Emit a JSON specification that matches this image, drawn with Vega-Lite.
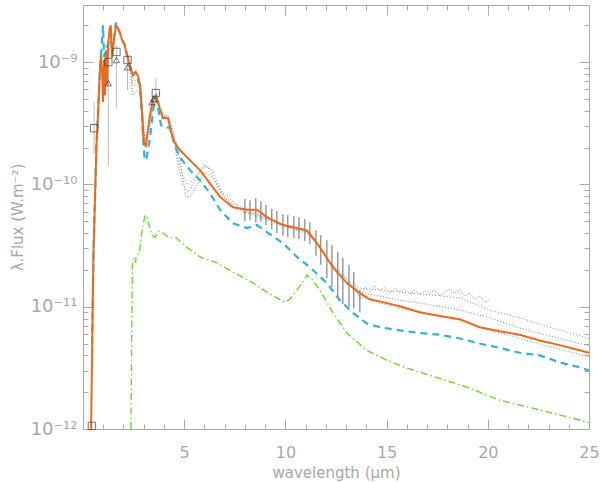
{
  "$schema": "https://vega.github.io/schema/vega-lite/v6.json",
  "width": 506,
  "height": 424,
  "autosize": {"type": "none"},
  "padding": {"left": 83, "top": 5, "right": 11, "bottom": 53},
  "background": "white",
  "config": {
    "view": {"stroke": null},
    "axis": {
      "grid": false,
      "domainColor": "#aaaaaa",
      "tickColor": "#aaaaaa",
      "labelColor": "#a8a8a8",
      "titleColor": "#a8a8a8",
      "labelFont": "DejaVu Sans",
      "titleFont": "DejaVu Sans",
      "titleFontWeight": "normal",
      "domainWidth": 1,
      "tickWidth": 1
    }
  },
  "datasets": {
    "lines": [
      {"s": "D1", "x": 2.32, "y": 8.6e-10}, {"s": "D1", "x": 2.47, "y": 5.37e-10}, {"s": "D1", "x": 2.67, "y": 5.9e-10}, {"s": "D1", "x": 2.86, "y": 5.37e-10}, {"s": "D1", "x": 3.06, "y": 2.3e-10}, {"s": "D1", "x": 3.26, "y": 3.06e-10}, {"s": "D1", "x": 3.46, "y": 5.37e-10}, {"s": "D1", "x": 3.65, "y": 4.9e-10}, {"s": "D1", "x": 3.90, "y": 3.49e-10}, {"s": "D1", "x": 4.20, "y": 3.69e-10}, {"s": "D1", "x": 4.44, "y": 2.53e-10}, {"s": "D1", "x": 4.69, "y": 1.44e-10}, {"s": "D1", "x": 4.94, "y": 9.9e-11}, {"s": "D1", "x": 5.19, "y": 8.6e-11}, {"s": "D1", "x": 5.53, "y": 1.08e-10}, {"s": "D1", "x": 5.88, "y": 1.36e-10}, {"s": "D1", "x": 6.17, "y": 1.385e-10}, {"s": "D1", "x": 6.52, "y": 1.08e-10}, {"s": "D1", "x": 7.01, "y": 7.7e-11}, {"s": "D1", "x": 7.51, "y": 6.8e-11}, {"s": "D1", "x": 8.0, "y": 5.9e-11}, {"s": "D1", "x": 8.49, "y": 5.8e-11}, {"s": "D1", "x": 9.23, "y": 5.1e-11}, {"s": "D1", "x": 10.22, "y": 4.4e-11}, {"s": "D1", "x": 11.21, "y": 4.07e-11}, {"s": "D1", "x": 12.20, "y": 2.32e-11}, {"s": "D1", "x": 13.19, "y": 1.59e-11}, {"s": "D1", "x": 13.68, "y": 1.42e-11}, {"s": "D1", "x": 14.67, "y": 1.37e-11}, {"s": "D1", "x": 15.65, "y": 1.32e-11}, {"s": "D1", "x": 17.14, "y": 1.25e-11}, {"s": "D1", "x": 18.62, "y": 1.18e-11}, {"s": "D1", "x": 20.10, "y": 9.4e-12}, {"s": "D1", "x": 21.58, "y": 8.1e-12}, {"s": "D1", "x": 23.06, "y": 6.8e-12}, {"s": "D1", "x": 25.0, "y": 5.5e-12},
      {"s": "D2", "x": 2.32, "y": 8.9e-10}, {"s": "D2", "x": 2.47, "y": 6.5e-10}, {"s": "D2", "x": 2.67, "y": 6.5e-10}, {"s": "D2", "x": 2.86, "y": 5.9e-10}, {"s": "D2", "x": 3.06, "y": 2.09e-10}, {"s": "D2", "x": 3.26, "y": 2.89e-10}, {"s": "D2", "x": 3.46, "y": 5.27e-10}, {"s": "D2", "x": 3.80, "y": 4.05e-10}, {"s": "D2", "x": 4.20, "y": 3.55e-10}, {"s": "D2", "x": 4.44, "y": 2.68e-10}, {"s": "D2", "x": 4.69, "y": 1.58e-10}, {"s": "D2", "x": 4.94, "y": 1.15e-10}, {"s": "D2", "x": 5.19, "y": 9.9e-11}, {"s": "D2", "x": 5.53, "y": 1.13e-10}, {"s": "D2", "x": 6.02, "y": 1.44e-10}, {"s": "D2", "x": 6.37, "y": 1.31e-10}, {"s": "D2", "x": 6.86, "y": 8.6e-11}, {"s": "D2", "x": 7.51, "y": 7.0e-11}, {"s": "D2", "x": 8.25, "y": 5.9e-11}, {"s": "D2", "x": 9.23, "y": 5.2e-11}, {"s": "D2", "x": 10.22, "y": 4.5e-11}, {"s": "D2", "x": 11.21, "y": 4.07e-11}, {"s": "D2", "x": 12.20, "y": 2.32e-11}, {"s": "D2", "x": 13.19, "y": 1.56e-11}, {"s": "D2", "x": 13.68, "y": 1.32e-11}, {"s": "D2", "x": 14.67, "y": 1.22e-11}, {"s": "D2", "x": 15.65, "y": 1.13e-11}, {"s": "D2", "x": 17.14, "y": 1.04e-11}, {"s": "D2", "x": 18.62, "y": 9.4e-12}, {"s": "D2", "x": 20.10, "y": 8.1e-12}, {"s": "D2", "x": 21.58, "y": 6.7e-12}, {"s": "D2", "x": 23.06, "y": 5.75e-12}, {"s": "D2", "x": 25.0, "y": 4.8e-12},
      {"s": "D3", "x": 2.32, "y": 9.3e-10}, {"s": "D3", "x": 2.47, "y": 7.4e-10}, {"s": "D3", "x": 2.86, "y": 6.5e-10}, {"s": "D3", "x": 3.06, "y": 1.98e-10}, {"s": "D3", "x": 3.31, "y": 3.06e-10}, {"s": "D3", "x": 3.56, "y": 5.17e-10}, {"s": "D3", "x": 3.95, "y": 3.69e-10}, {"s": "D3", "x": 4.30, "y": 3.23e-10}, {"s": "D3", "x": 4.59, "y": 2.3e-10}, {"s": "D3", "x": 4.84, "y": 1.44e-10}, {"s": "D3", "x": 5.09, "y": 7.9e-11}, {"s": "D3", "x": 5.28, "y": 7.9e-11}, {"s": "D3", "x": 5.63, "y": 9.9e-11}, {"s": "D3", "x": 6.02, "y": 1.26e-10}, {"s": "D3", "x": 6.42, "y": 1.13e-10}, {"s": "D3", "x": 6.86, "y": 8.2e-11}, {"s": "D3", "x": 7.51, "y": 6.5e-11}, {"s": "D3", "x": 8.25, "y": 5.7e-11}, {"s": "D3", "x": 9.23, "y": 5.0e-11}, {"s": "D3", "x": 10.22, "y": 4.4e-11}, {"s": "D3", "x": 11.21, "y": 3.9e-11}, {"s": "D3", "x": 12.20, "y": 2.28e-11}, {"s": "D3", "x": 13.19, "y": 1.48e-11}, {"s": "D3", "x": 13.68, "y": 1.22e-11}, {"s": "D3", "x": 14.67, "y": 1.07e-11}, {"s": "D3", "x": 15.65, "y": 9.7e-12}, {"s": "D3", "x": 17.14, "y": 8.7e-12}, {"s": "D3", "x": 18.62, "y": 7.8e-12}, {"s": "D3", "x": 20.10, "y": 6.4e-12}, {"s": "D3", "x": 21.58, "y": 5.5e-12}, {"s": "D3", "x": 23.06, "y": 4.7e-12}, {"s": "D3", "x": 25.0, "y": 3.9e-12},
      {"s": "spec", "x": 13.53, "y": 1.37e-11}, {"s": "spec", "x": 13.68, "y": 1.13e-11}, {"s": "spec", "x": 13.93, "y": 1.45e-11}, {"s": "spec", "x": 14.17, "y": 1.32e-11}, {"s": "spec", "x": 14.42, "y": 1.48e-11}, {"s": "spec", "x": 14.67, "y": 1.35e-11}, {"s": "spec", "x": 14.91, "y": 1.45e-11}, {"s": "spec", "x": 15.16, "y": 1.29e-11}, {"s": "spec", "x": 15.41, "y": 1.42e-11}, {"s": "spec", "x": 15.65, "y": 1.32e-11}, {"s": "spec", "x": 15.90, "y": 1.39e-11}, {"s": "spec", "x": 16.15, "y": 1.27e-11}, {"s": "spec", "x": 16.40, "y": 1.37e-11}, {"s": "spec", "x": 16.64, "y": 1.25e-11}, {"s": "spec", "x": 16.89, "y": 1.35e-11}, {"s": "spec", "x": 17.14, "y": 1.29e-11}, {"s": "spec", "x": 17.38, "y": 1.37e-11}, {"s": "spec", "x": 17.63, "y": 1.22e-11}, {"s": "spec", "x": 17.88, "y": 1.32e-11}, {"s": "spec", "x": 18.12, "y": 1.39e-11}, {"s": "spec", "x": 18.37, "y": 1.29e-11}, {"s": "spec", "x": 18.62, "y": 1.37e-11}, {"s": "spec", "x": 18.86, "y": 1.22e-11}, {"s": "spec", "x": 19.11, "y": 1.29e-11}, {"s": "spec", "x": 19.36, "y": 1.15e-11}, {"s": "spec", "x": 19.60, "y": 1.22e-11}, {"s": "spec", "x": 19.85, "y": 1.09e-11}, {"s": "spec", "x": 20.10, "y": 1.13e-11},
      {"s": "green", "x": 2.37, "y": 1.0e-12}, {"s": "green", "x": 2.40, "y": 4.4e-12}, {"s": "green", "x": 2.44, "y": 2.2e-11}, {"s": "green", "x": 2.52, "y": 2.5e-11}, {"s": "green", "x": 2.59, "y": 2.3e-11}, {"s": "green", "x": 2.64, "y": 2.6e-11}, {"s": "green", "x": 2.78, "y": 2.75e-11}, {"s": "green", "x": 2.90, "y": 4.0e-11}, {"s": "green", "x": 3.06, "y": 5.6e-11}, {"s": "green", "x": 3.14, "y": 5.5e-11}, {"s": "green", "x": 3.22, "y": 4.9e-11}, {"s": "green", "x": 3.41, "y": 3.85e-11}, {"s": "green", "x": 3.56, "y": 3.7e-11}, {"s": "green", "x": 3.75, "y": 4.15e-11}, {"s": "green", "x": 3.90, "y": 4.07e-11}, {"s": "green", "x": 4.20, "y": 3.7e-11}, {"s": "green", "x": 4.63, "y": 3.64e-11}, {"s": "green", "x": 5.12, "y": 3.07e-11}, {"s": "green", "x": 5.78, "y": 2.55e-11}, {"s": "green", "x": 6.62, "y": 2.28e-11}, {"s": "green", "x": 7.41, "y": 1.92e-11}, {"s": "green", "x": 8.25, "y": 1.62e-11}, {"s": "green", "x": 9.07, "y": 1.32e-11}, {"s": "green", "x": 9.58, "y": 1.18e-11}, {"s": "green", "x": 9.98, "y": 1.09e-11}, {"s": "green", "x": 10.22, "y": 1.15e-11}, {"s": "green", "x": 10.72, "y": 1.48e-11}, {"s": "green", "x": 11.06, "y": 1.81e-11}, {"s": "green", "x": 11.31, "y": 1.68e-11}, {"s": "green", "x": 11.70, "y": 1.37e-11}, {"s": "green", "x": 12.35, "y": 8.9e-12}, {"s": "green", "x": 13.04, "y": 6.1e-12}, {"s": "green", "x": 13.33, "y": 5.5e-12}, {"s": "green", "x": 14.02, "y": 4.4e-12}, {"s": "green", "x": 15.01, "y": 3.66e-12}, {"s": "green", "x": 16.0, "y": 3.15e-12}, {"s": "green", "x": 17.28, "y": 2.7e-12}, {"s": "green", "x": 18.96, "y": 2.2e-12}, {"s": "green", "x": 20.59, "y": 1.72e-12}, {"s": "green", "x": 22.22, "y": 1.48e-12}, {"s": "green", "x": 23.90, "y": 1.26e-12}, {"s": "green", "x": 25.0, "y": 1.13e-12},
      {"s": "cyan", "x": 0.45, "y": 5.0e-12}, {"s": "cyan", "x": 0.52, "y": 2.9e-11}, {"s": "cyan", "x": 0.59, "y": 7.4e-11}, {"s": "cyan", "x": 0.66, "y": 1.98e-10}, {"s": "cyan", "x": 0.74, "y": 3.69e-10}, {"s": "cyan", "x": 0.83, "y": 8.28e-10}, {"s": "cyan", "x": 0.90, "y": 1.2e-9}, {"s": "cyan", "x": 0.99, "y": 2.0e-9}, {"s": "cyan", "x": 1.04, "y": 1.1e-9}, {"s": "cyan", "x": 1.14, "y": 1.3e-9}, {"s": "cyan", "x": 1.24, "y": 1.4e-9}, {"s": "cyan", "x": 1.37, "y": 1.95e-9}, {"s": "cyan", "x": 1.43, "y": 1.2e-9}, {"s": "cyan", "x": 1.53, "y": 1.6e-9}, {"s": "cyan", "x": 1.63, "y": 2.1e-9}, {"s": "cyan", "x": 1.70, "y": 1.95e-9}, {"s": "cyan", "x": 1.81, "y": 1.76e-9}, {"s": "cyan", "x": 2.06, "y": 1.38e-9}, {"s": "cyan", "x": 2.31, "y": 9.45e-10}, {"s": "cyan", "x": 2.47, "y": 7.8e-10}, {"s": "cyan", "x": 2.60, "y": 8.28e-10}, {"s": "cyan", "x": 2.81, "y": 6.5e-10}, {"s": "cyan", "x": 2.91, "y": 3.69e-10}, {"s": "cyan", "x": 2.99, "y": 2.09e-10}, {"s": "cyan", "x": 3.05, "y": 1.58e-10}, {"s": "cyan", "x": 3.14, "y": 1.64e-10}, {"s": "cyan", "x": 3.31, "y": 2.4e-10}, {"s": "cyan", "x": 3.54, "y": 5.08e-10}, {"s": "cyan", "x": 3.65, "y": 4.9e-10}, {"s": "cyan", "x": 3.85, "y": 3.06e-10}, {"s": "cyan", "x": 4.05, "y": 2.89e-10}, {"s": "cyan", "x": 4.28, "y": 2.94e-10}, {"s": "cyan", "x": 4.53, "y": 2.09e-10}, {"s": "cyan", "x": 4.79, "y": 1.67e-10}, {"s": "cyan", "x": 5.28, "y": 1.31e-10}, {"s": "cyan", "x": 5.78, "y": 1.08e-10}, {"s": "cyan", "x": 6.27, "y": 8.5e-11}, {"s": "cyan", "x": 6.77, "y": 6.2e-11}, {"s": "cyan", "x": 7.41, "y": 4.8e-11}, {"s": "cyan", "x": 8.10, "y": 4.4e-11}, {"s": "cyan", "x": 8.59, "y": 4.65e-11}, {"s": "cyan", "x": 9.09, "y": 4.07e-11}, {"s": "cyan", "x": 9.88, "y": 3.31e-11}, {"s": "cyan", "x": 10.57, "y": 2.55e-11}, {"s": "cyan", "x": 11.21, "y": 2.1e-11}, {"s": "cyan", "x": 12.05, "y": 1.56e-11}, {"s": "cyan", "x": 12.69, "y": 1.13e-11}, {"s": "cyan", "x": 13.33, "y": 8.9e-12}, {"s": "cyan", "x": 14.02, "y": 7.3e-12}, {"s": "cyan", "x": 14.67, "y": 6.8e-12}, {"s": "cyan", "x": 15.65, "y": 6.4e-12}, {"s": "cyan", "x": 16.64, "y": 6.1e-12}, {"s": "cyan", "x": 17.63, "y": 5.9e-12}, {"s": "cyan", "x": 18.62, "y": 5.5e-12}, {"s": "cyan", "x": 19.60, "y": 5.0e-12}, {"s": "cyan", "x": 20.59, "y": 4.6e-12}, {"s": "cyan", "x": 21.58, "y": 4.2e-12}, {"s": "cyan", "x": 22.57, "y": 4.0e-12}, {"s": "cyan", "x": 23.56, "y": 3.5e-12}, {"s": "cyan", "x": 24.54, "y": 3.2e-12}, {"s": "cyan", "x": 25.0, "y": 3.0e-12},
      {"s": "orange", "x": 0.40, "y": 1.0e-12}, {"s": "orange", "x": 0.47, "y": 7.8e-12}, {"s": "orange", "x": 0.52, "y": 2.9e-11}, {"s": "orange", "x": 0.59, "y": 7.4e-11}, {"s": "orange", "x": 0.66, "y": 1.98e-10}, {"s": "orange", "x": 0.74, "y": 3.69e-10}, {"s": "orange", "x": 0.83, "y": 8.28e-10}, {"s": "orange", "x": 0.89, "y": 1.14e-9}, {"s": "orange", "x": 0.94, "y": 8.6e-10}, {"s": "orange", "x": 0.99, "y": 4.71e-10}, {"s": "orange", "x": 1.04, "y": 1.04e-9}, {"s": "orange", "x": 1.09, "y": 5.37e-10}, {"s": "orange", "x": 1.14, "y": 1.25e-9}, {"s": "orange", "x": 1.19, "y": 6.5e-10}, {"s": "orange", "x": 1.24, "y": 1.38e-9}, {"s": "orange", "x": 1.32, "y": 1.9e-9}, {"s": "orange", "x": 1.37, "y": 2.0e-9}, {"s": "orange", "x": 1.43, "y": 1.08e-9}, {"s": "orange", "x": 1.53, "y": 1.51e-9}, {"s": "orange", "x": 1.63, "y": 2.0e-9}, {"s": "orange", "x": 1.70, "y": 1.93e-9}, {"s": "orange", "x": 1.81, "y": 1.76e-9}, {"s": "orange", "x": 1.93, "y": 1.51e-9}, {"s": "orange", "x": 2.06, "y": 1.38e-9}, {"s": "orange", "x": 2.17, "y": 1.14e-9}, {"s": "orange", "x": 2.31, "y": 9.45e-10}, {"s": "orange", "x": 2.47, "y": 7.8e-10}, {"s": "orange", "x": 2.60, "y": 8.28e-10}, {"s": "orange", "x": 2.72, "y": 7.7e-10}, {"s": "orange", "x": 2.81, "y": 6.5e-10}, {"s": "orange", "x": 2.91, "y": 4.05e-10}, {"s": "orange", "x": 2.96, "y": 2.78e-10}, {"s": "orange", "x": 3.01, "y": 2.18e-10}, {"s": "orange", "x": 3.11, "y": 2.09e-10}, {"s": "orange", "x": 3.21, "y": 2.78e-10}, {"s": "orange", "x": 3.29, "y": 3.49e-10}, {"s": "orange", "x": 3.46, "y": 5.08e-10}, {"s": "orange", "x": 3.62, "y": 5.37e-10}, {"s": "orange", "x": 3.79, "y": 4.21e-10}, {"s": "orange", "x": 3.95, "y": 3.49e-10}, {"s": "orange", "x": 4.20, "y": 3.49e-10}, {"s": "orange", "x": 4.35, "y": 2.68e-10}, {"s": "orange", "x": 4.54, "y": 2.18e-10}, {"s": "orange", "x": 4.79, "y": 1.91e-10}, {"s": "orange", "x": 5.28, "y": 1.58e-10}, {"s": "orange", "x": 5.78, "y": 1.31e-10}, {"s": "orange", "x": 6.27, "y": 1.02e-10}, {"s": "orange", "x": 6.77, "y": 7.9e-11}, {"s": "orange", "x": 7.41, "y": 6.5e-11}, {"s": "orange", "x": 8.10, "y": 6.2e-11}, {"s": "orange", "x": 8.59, "y": 6.2e-11}, {"s": "orange", "x": 9.09, "y": 5.4e-11}, {"s": "orange", "x": 9.88, "y": 4.65e-11}, {"s": "orange", "x": 10.57, "y": 4.4e-11}, {"s": "orange", "x": 11.06, "y": 4.2e-11}, {"s": "orange", "x": 11.70, "y": 3.07e-11}, {"s": "orange", "x": 12.35, "y": 2.1e-11}, {"s": "orange", "x": 13.04, "y": 1.56e-11}, {"s": "orange", "x": 13.68, "y": 1.29e-11}, {"s": "orange", "x": 14.17, "y": 1.15e-11}, {"s": "orange", "x": 14.81, "y": 1.09e-11}, {"s": "orange", "x": 15.65, "y": 1.01e-11}, {"s": "orange", "x": 16.64, "y": 9.0e-12}, {"s": "orange", "x": 17.63, "y": 8.4e-12}, {"s": "orange", "x": 18.62, "y": 7.9e-12}, {"s": "orange", "x": 19.60, "y": 6.8e-12}, {"s": "orange", "x": 20.59, "y": 6.3e-12}, {"s": "orange", "x": 21.58, "y": 5.9e-12}, {"s": "orange", "x": 22.57, "y": 5.3e-12}, {"s": "orange", "x": 23.56, "y": 4.85e-12}, {"s": "orange", "x": 24.54, "y": 4.4e-12}, {"s": "orange", "x": 25.0, "y": 4.2e-12}
    ],
    "bars": [
      {"k": "phot", "x": 0.55, "lo": 1.77e-10, "hi": 4.71e-10},
      {"k": "phot", "x": 1.25, "lo": 1.41e-10, "hi": 1.14e-9},
      {"k": "phot", "x": 1.65, "lo": 4.21e-10, "hi": 1.38e-9},
      {"k": "phot", "x": 2.2, "lo": 5.9e-10, "hi": 1.08e-9},
      {"k": "phot", "x": 3.6, "lo": 4.37e-10, "hi": 7.4e-10},
      {"k": "irs", "x": 8.00, "lo": 5.0e-11, "hi": 7.6e-11},
      {"k": "irs", "x": 8.25, "lo": 5.1e-11, "hi": 7.4e-11},
      {"k": "irs", "x": 8.54, "lo": 4.9e-11, "hi": 7.7e-11},
      {"k": "irs", "x": 8.79, "lo": 5.0e-11, "hi": 7.3e-11},
      {"k": "irs", "x": 9.04, "lo": 4.65e-11, "hi": 6.8e-11},
      {"k": "irs", "x": 9.33, "lo": 4.3e-11, "hi": 6.3e-11},
      {"k": "irs", "x": 9.58, "lo": 4.0e-11, "hi": 6.05e-11},
      {"k": "irs", "x": 9.88, "lo": 3.8e-11, "hi": 5.7e-11},
      {"k": "irs", "x": 10.12, "lo": 3.7e-11, "hi": 5.6e-11},
      {"k": "irs", "x": 10.42, "lo": 3.64e-11, "hi": 5.5e-11},
      {"k": "irs", "x": 10.67, "lo": 3.57e-11, "hi": 5.4e-11},
      {"k": "irs", "x": 10.96, "lo": 3.44e-11, "hi": 5.2e-11},
      {"k": "irs", "x": 11.21, "lo": 3.25e-11, "hi": 4.9e-11},
      {"k": "irs", "x": 11.51, "lo": 2.6e-11, "hi": 4.2e-11},
      {"k": "irs", "x": 11.75, "lo": 2.2e-11, "hi": 3.85e-11},
      {"k": "irs", "x": 12.05, "lo": 1.71e-11, "hi": 3.5e-11},
      {"k": "irs", "x": 12.30, "lo": 1.45e-11, "hi": 3.2e-11},
      {"k": "irs", "x": 12.59, "lo": 1.18e-11, "hi": 2.8e-11},
      {"k": "irs", "x": 12.84, "lo": 1.05e-11, "hi": 2.5e-11},
      {"k": "irs", "x": 13.14, "lo": 9.9e-12, "hi": 2.2e-11},
      {"k": "irs", "x": 13.38, "lo": 9.7e-12, "hi": 1.92e-11},
      {"k": "irs", "x": 13.68, "lo": 9.0e-12, "hi": 1.37e-11}
    ],
    "phot": [
      {"k": "sq", "x": 0.44, "y": 1.06e-12},
      {"k": "sq", "x": 0.55, "y": 2.88e-10},
      {"k": "sq", "x": 1.25, "y": 1.0e-9},
      {"k": "sq", "x": 1.65, "y": 1.21e-9},
      {"k": "sq", "x": 2.2, "y": 1.04e-9},
      {"k": "sq", "x": 3.6, "y": 5.58e-10},
      {"k": "tri", "x": 1.25, "y": 6.73e-10},
      {"k": "tri", "x": 1.65, "y": 1.04e-9},
      {"k": "tri", "x": 2.2, "y": 9.1e-10},
      {"k": "tri", "x": 3.4, "y": 4.71e-10},
      {"k": "tri", "x": 3.5, "y": 5.0e-10}
    ]
  },
  "resolve": {"scale": {"x": "shared", "y": "shared"}, "axis": {"x": "independent", "y": "independent"}},
  "layer": [
    {
      "data": {"name": "lines"},
      "transform": [{"filter": "datum.s == 'D1' || datum.s == 'D2' || datum.s == 'D3'"}],
      "mark": {"type": "line", "stroke": "#8c8c8c", "strokeWidth": 1, "strokeDash": [1, 2], "clip": true},
      "encoding": {
        "x": {"field": "x", "type": "quantitative", "scale": {"domain": [0, 25], "nice": false, "zero": false},
          "axis": {"orient": "bottom", "values": [5, 10, 15, 20, 25], "tickSize": -10, "labelPadding": 25, "labelFontSize": 16, "labelFlush": false, "title": "wavelength (μm)", "titleFontSize": 15, "titlePadding": 5}},
        "y": {"field": "y", "type": "quantitative", "scale": {"type": "log", "domain": [1e-12, 2.93e-9], "nice": false},
          "axis": {"orient": "left", "values": [1e-12, 1e-11, 1e-10, 1e-9], "tickSize": -10, "labelPadding": 16, "labelFontSize": 18, "labelFlush": false,
            "labelExpr": "datum.value < 5e-12 ? '10⁻¹²' : datum.value < 5e-11 ? '10⁻¹¹' : datum.value < 5e-10 ? '10⁻¹⁰' : '10⁻⁹'",
            "title": "λ.Flux (W.m⁻²)", "titleFontSize": 15, "titlePadding": 5}},
        "detail": {"field": "s"}
      }
    },
    {
      "data": {"name": "lines"},
      "transform": [{"filter": "datum.s == 'spec'"}],
      "mark": {"type": "line", "stroke": "#999999", "strokeWidth": 1, "strokeDash": [1, 1.5], "clip": true},
      "encoding": {
        "x": {"field": "x", "type": "quantitative", "scale": {"domain": [0, 25], "nice": false, "zero": false},
          "axis": {"orient": "bottom", "values": [1, 2, 3, 4, 6, 7, 8, 9, 11, 12, 13, 14, 16, 17, 18, 19, 21, 22, 23, 24], "tickSize": -5, "labels": false, "domain": false, "title": null}},
        "y": {"field": "y", "type": "quantitative", "scale": {"type": "log", "domain": [1e-12, 2.93e-9], "nice": false},
          "axis": {"orient": "left", "values": [2e-12, 3e-12, 4e-12, 5e-12, 6e-12, 7e-12, 8e-12, 9e-12, 2e-11, 3e-11, 4e-11, 5e-11, 6e-11, 7e-11, 8e-11, 9e-11, 2e-10, 3e-10, 4e-10, 5e-10, 6e-10, 7e-10, 8e-10, 9e-10, 2e-9], "tickSize": -5, "labels": false, "domain": false, "title": null}}
      }
    },
    {
      "data": {"name": "bars"},
      "mark": {"type": "rule", "strokeWidth": 1, "clip": true},
      "encoding": {
        "x": {"field": "x", "type": "quantitative", "scale": {"domain": [0, 25], "nice": false, "zero": false},
          "axis": {"orient": "top", "values": [5, 10, 15, 20], "tickSize": -10, "labels": false, "title": null}},
        "y": {"field": "lo", "type": "quantitative", "scale": {"type": "log", "domain": [1e-12, 2.93e-9], "nice": false},
          "axis": {"orient": "right", "values": [1e-12, 1e-11, 1e-10, 1e-9], "tickSize": -10, "labels": false, "title": null}},
        "y2": {"field": "hi"},
        "color": {"field": "k", "type": "nominal", "scale": {"domain": ["irs", "phot"], "range": ["#6a6a6a", "#bdbdbd"]}, "legend": null}
      }
    },
    {
      "data": {"name": "lines"},
      "transform": [{"filter": "datum.s == 'green'"}],
      "mark": {"type": "line", "stroke": "#66dd22", "strokeWidth": 1.4, "strokeDash": [7, 3, 1.5, 3], "clip": true},
      "encoding": {
        "x": {"field": "x", "type": "quantitative", "scale": {"domain": [0, 25], "nice": false, "zero": false},
          "axis": {"orient": "top", "values": [1, 2, 3, 4, 6, 7, 8, 9, 11, 12, 13, 14, 16, 17, 18, 19, 21, 22, 23, 24], "tickSize": -5, "labels": false, "domain": false, "title": null}},
        "y": {"field": "y", "type": "quantitative", "scale": {"type": "log", "domain": [1e-12, 2.93e-9], "nice": false},
          "axis": {"orient": "right", "values": [2e-12, 3e-12, 4e-12, 5e-12, 6e-12, 7e-12, 8e-12, 9e-12, 2e-11, 3e-11, 4e-11, 5e-11, 6e-11, 7e-11, 8e-11, 9e-11, 2e-10, 3e-10, 4e-10, 5e-10, 6e-10, 7e-10, 8e-10, 9e-10, 2e-9], "tickSize": -5, "labels": false, "domain": false, "title": null}}
      }
    },
    {
      "data": {"name": "lines"},
      "transform": [{"filter": "datum.s == 'cyan'"}],
      "mark": {"type": "line", "stroke": "#2db4d8", "strokeWidth": 2.2, "strokeDash": [7, 5], "clip": true},
      "encoding": {
        "x": {"field": "x", "type": "quantitative", "scale": {"domain": [0, 25], "nice": false, "zero": false}, "axis": null},
        "y": {"field": "y", "type": "quantitative", "scale": {"type": "log", "domain": [1e-12, 2.93e-9], "nice": false}, "axis": null}
      }
    },
    {
      "data": {"name": "lines"},
      "transform": [{"filter": "datum.s == 'orange'"}],
      "mark": {"type": "line", "stroke": "#ec6a1c", "strokeWidth": 2, "clip": true},
      "encoding": {
        "x": {"field": "x", "type": "quantitative", "scale": {"domain": [0, 25], "nice": false, "zero": false}, "axis": null},
        "y": {"field": "y", "type": "quantitative", "scale": {"type": "log", "domain": [1e-12, 2.93e-9], "nice": false}, "axis": null}
      }
    },
    {
      "data": {"name": "phot"},
      "transform": [{"filter": "datum.k == 'sq'"}],
      "mark": {"type": "point", "shape": "square", "size": 55, "filled": false, "stroke": "#3a3a3a", "strokeWidth": 1},
      "encoding": {
        "x": {"field": "x", "type": "quantitative", "scale": {"domain": [0, 25], "nice": false, "zero": false}, "axis": null},
        "y": {"field": "y", "type": "quantitative", "scale": {"type": "log", "domain": [1e-12, 2.93e-9], "nice": false}, "axis": null}
      }
    },
    {
      "data": {"name": "phot"},
      "transform": [{"filter": "datum.k == 'tri'"}],
      "mark": {"type": "point", "shape": "triangle-up", "size": 40, "filled": false, "stroke": "#3a3a3a", "strokeWidth": 1},
      "encoding": {
        "x": {"field": "x", "type": "quantitative", "scale": {"domain": [0, 25], "nice": false, "zero": false}, "axis": null},
        "y": {"field": "y", "type": "quantitative", "scale": {"type": "log", "domain": [1e-12, 2.93e-9], "nice": false}, "axis": null}
      }
    }
  ]
}
